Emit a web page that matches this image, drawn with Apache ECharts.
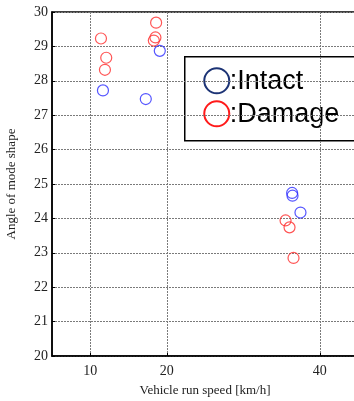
<!DOCTYPE html>
<html>
<head>
<meta charset="utf-8">
<script src="https://cdn.jsdelivr.net/npm/echarts@6/dist/echarts.min.js"></script>
<style>
html,body{margin:0;padding:0;background:#fff;}
#chart{width:354px;height:401px;}
</style>
</head>
<body>
<div id="chart"></div>
<script>
// Vehicle run speed [km/h] vs. angle of mode shape
const xTicks = [10, 20, 40];
const yTicks = [20, 21, 22, 23, 24, 25, 26, 27, 28, 29, 30];

const intactSpeed = [11.66, 17.26, 19.09, 36.39, 36.44, 37.48];
const intactAngle = [27.72, 27.47, 28.87, 24.74, 24.66, 24.17];

const damageSpeed = [11.40, 12.09, 11.92, 18.61, 18.52, 18.31, 35.53, 36.05, 36.57];
const damageAngle = [29.23, 28.67, 28.32, 29.69, 29.26, 29.17, 23.94, 23.74, 22.85];

const legendNames = [':Intact', ':Damage'];

const pairs = (xs, ys) => xs.map((x, i) => [x, ys[i]]);

const serif = '"Liberation Serif", "DejaVu Serif", serif';
const sans = '"Liberation Sans", Arial, sans-serif';
const gridLine = { show: true, lineStyle: { color: '#7a7a7a', type: [2, 1], width: 1 } };

const chart = echarts.init(document.getElementById('chart'));
chart.setOption({
  animation: false,
  grid: {
    left: 52, top: 12, right: -4, bottom: 45,
    containLabel: false, outerBoundsMode: 'none',
    show: true, borderColor: '#000', borderWidth: 1.5, backgroundColor: '#fff'
  },
  xAxis: {
    type: 'value', min: 5, max: 45,
    name: 'Vehicle run speed [km/h]', nameLocation: 'middle', nameGap: 28,
    nameTextStyle: { fontFamily: serif, fontSize: 13, color: '#222' },
    axisLine: { lineStyle: { color: '#000', width: 1.5 } },
    axisTick: { show: true, inside: true, length: 3, customValues: xTicks, lineStyle: { color: '#000' } },
    axisLabel: { customValues: xTicks, fontFamily: serif, fontSize: 14, color: '#222', margin: 8 },
    splitLine: gridLine
  },
  yAxis: {
    type: 'value', min: 20, max: 30, interval: 1,
    name: 'Angle of mode shape', nameLocation: 'middle', nameGap: 34,
    nameTextStyle: { fontFamily: serif, fontSize: 13, color: '#222' },
    axisLine: { show: true, lineStyle: { color: '#000', width: 1.5 } },
    axisTick: { show: true, inside: true, length: 3, customValues: yTicks, lineStyle: { color: '#000' } },
    axisLabel: { customValues: yTicks, fontFamily: serif, fontSize: 14, color: '#222', margin: 4 },
    splitLine: gridLine
  },
  series: [
    {
      name: legendNames[0], type: 'scatter', symbol: 'circle', symbolSize: 11,
      itemStyle: { color: 'rgba(0,0,0,0)', borderColor: '#2b2bff', borderWidth: 1.2 },
      data: pairs(intactSpeed, intactAngle), z: 3
    },
    {
      name: legendNames[1], type: 'scatter', symbol: 'circle', symbolSize: 11,
      itemStyle: { color: 'rgba(0,0,0,0)', borderColor: '#ff2a2a', borderWidth: 1.2 },
      data: pairs(damageSpeed, damageAngle), z: 3
    }
  ],
  graphic: [
    {
      type: 'group', left: 184, top: 56, z: 10,
      children: [
        { type: 'rect', shape: { x: 0, y: 0, width: 180, height: 84 },
          style: { fill: '#fff', stroke: '#000', lineWidth: 1.5 } },
        { type: 'circle', shape: { cx: 32, cy: 24, r: 12.5 },
          style: { fill: 'none', stroke: '#1c3375', lineWidth: 2 } },
        { type: 'text', x: 45, y: 25,
          style: { text: legendNames[0], font: '27px ' + sans, fill: '#000', verticalAlign: 'middle' } },
        { type: 'circle', shape: { cx: 32, cy: 57, r: 12.5 },
          style: { fill: 'none', stroke: '#ff1a1a', lineWidth: 2 } },
        { type: 'text', x: 45, y: 58,
          style: { text: legendNames[1], font: '27px ' + sans, fill: '#000', verticalAlign: 'middle' } }
      ]
    }
  ]
});
</script>
</body>
</html>
